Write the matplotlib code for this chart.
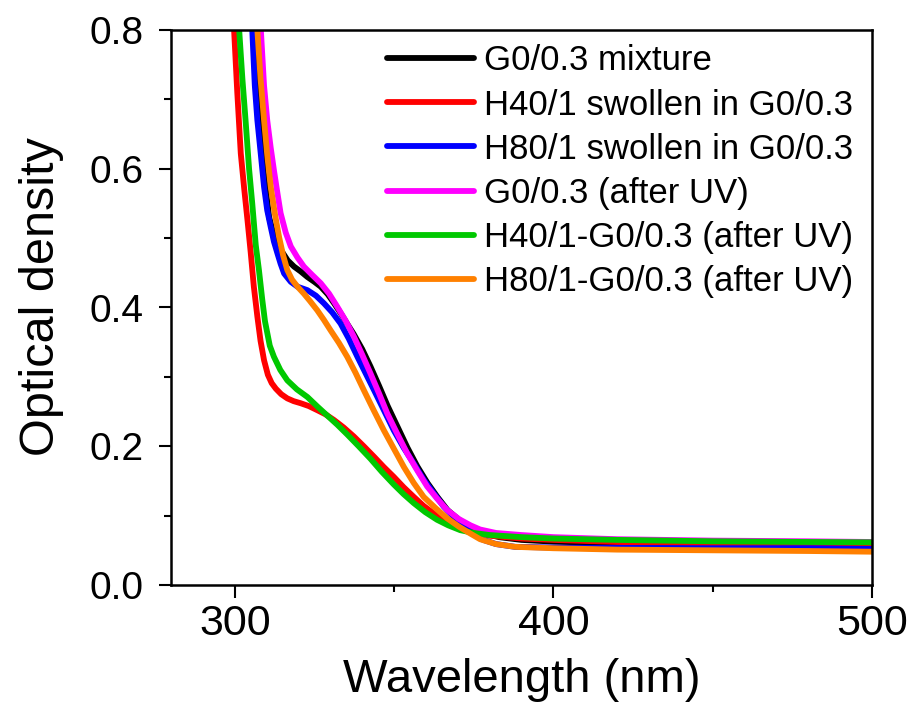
import matplotlib
matplotlib.use("Agg")
import matplotlib.pyplot as plt
from matplotlib.ticker import MultipleLocator

plt.rcParams['font.family'] = ['Liberation Sans', 'DejaVu Sans']

labels = ["G0/0.3 mixture", "H40/1 swollen in G0/0.3", "H80/1 swollen in G0/0.3",
          "G0/0.3 (after UV)", "H40/1-G0/0.3 (after UV)", "H80/1-G0/0.3 (after UV)"]
colors = ["#000000", "#ff0000", "#0000ff", "#ff00ff", "#00c800", "#ff8000"]

black_x = [305.6, 306.5, 307.5, 309.0, 310.8, 312.8, 314.9, 316.6, 318.6, 320.7, 322.8, 325.0, 327.0,
           329.2, 331.2, 333.5, 335.5, 337.3, 340.0, 342.6, 345.3, 348.0, 351.1, 354.2, 357.3, 360.5,
           363.6, 366.8, 370.4, 374.0, 378.0, 383.0, 390.0, 400.0, 420.0, 450.0, 480.0, 500.0]
black_y = [0.95, 0.80, 0.70, 0.60, 0.53, 0.495, 0.480, 0.468, 0.459, 0.452, 0.444, 0.437, 0.430,
           0.419, 0.406, 0.390, 0.375, 0.362, 0.340, 0.315, 0.287, 0.258, 0.228, 0.198, 0.171, 0.147,
           0.127, 0.108, 0.094, 0.083, 0.075, 0.069, 0.065, 0.0625, 0.060, 0.058, 0.057, 0.0567]

red_x = [298.8, 299.8, 300.8, 301.9, 303.0, 304.0, 305.0, 306.0, 307.1, 308.1, 309.2, 310.4, 311.6,
         312.9, 314.6, 316.5, 318.5, 320.7, 323.2, 325.9, 328.5, 331.1, 334.2, 337.4, 340.5, 343.7,
         346.8, 349.9, 353.0, 356.2, 359.3, 362.5, 365.6, 368.7, 372.0, 376.0, 380.0, 390.0, 400.0,
         420.0, 450.0, 480.0, 500.0]
red_y = [0.98, 0.80, 0.71, 0.622, 0.57, 0.526, 0.480, 0.430, 0.387, 0.352, 0.324, 0.303, 0.291,
         0.283, 0.275, 0.269, 0.265, 0.262, 0.258, 0.252, 0.246, 0.238, 0.227, 0.214, 0.200, 0.185,
         0.170, 0.156, 0.141, 0.127, 0.114, 0.103, 0.095, 0.089, 0.083, 0.076, 0.071, 0.067, 0.065,
         0.062, 0.060, 0.059, 0.058]

blue_x = [304.6, 305.5, 306.3, 307.1, 308.2, 309.2, 310.2, 311.3, 312.3, 313.4, 314.4, 315.5, 317.6,
          319.7, 322.8, 325.5, 328.0, 330.6, 333.2, 335.8, 338.5, 341.1, 343.7, 346.8, 349.9, 353.0,
          356.2, 359.3, 362.5, 365.6, 368.8, 372.0, 375.0, 378.0, 382.0, 388.0, 400.0, 420.0, 450.0,
          480.0, 500.0]
blue_y = [0.98, 0.80, 0.72, 0.670, 0.62, 0.574, 0.540, 0.516, 0.495, 0.478, 0.463, 0.449, 0.437,
          0.430, 0.425, 0.417, 0.406, 0.393, 0.377, 0.355, 0.329, 0.305, 0.281, 0.252, 0.223, 0.198,
          0.175, 0.152, 0.132, 0.113, 0.098, 0.084, 0.073, 0.065, 0.059, 0.055, 0.054, 0.0535, 0.053,
          0.053, 0.052]

magenta_x = [307.3, 308.2, 309.2, 310.2, 311.3, 312.3, 313.4, 314.4, 316.0, 317.6, 319.7, 321.7, 324.3,
             327.0, 329.6, 332.2, 334.8, 337.4, 340.0, 342.6, 345.3, 347.9, 351.0, 354.1, 357.3, 360.4,
             363.6, 366.7, 370.4, 374.0, 377.0, 382.0, 390.0, 400.0, 420.0, 450.0, 480.0, 500.0]
magenta_y = [0.98, 0.80, 0.72, 0.670, 0.63, 0.598, 0.565, 0.536, 0.508, 0.488, 0.472, 0.459, 0.447,
             0.435, 0.420, 0.401, 0.381, 0.358, 0.332, 0.305, 0.276, 0.247, 0.218, 0.190, 0.165, 0.142,
             0.124, 0.108, 0.095, 0.086, 0.080, 0.075, 0.072, 0.069, 0.066, 0.064, 0.063, 0.062]

green_x = [300.4, 301.4, 302.4, 303.4, 304.5, 305.5, 306.6, 307.6, 308.6, 309.5, 311.0, 312.3, 314.3,
           316.5, 319.5, 322.8, 326.0, 329.1, 332.2, 335.3, 338.9, 342.6, 346.2, 349.9, 353.0, 356.2,
           359.8, 363.5, 367.0, 370.8, 375.0, 380.0, 390.0, 400.0, 420.0, 450.0, 480.0, 500.0]
green_y = [0.98, 0.80, 0.73, 0.670, 0.60, 0.550, 0.490, 0.454, 0.413, 0.380, 0.345, 0.329, 0.310,
           0.295, 0.282, 0.271, 0.257, 0.244, 0.231, 0.217, 0.200, 0.182, 0.163, 0.145, 0.131, 0.118,
           0.105, 0.094, 0.086, 0.079, 0.075, 0.072, 0.069, 0.067, 0.065, 0.063, 0.062, 0.0615]

orange_x = [306.2, 307.1, 308.1, 309.2, 310.2, 311.3, 312.6, 313.9, 315.2, 316.5, 318.0, 319.7, 321.7,
            323.5, 325.9, 328.0, 330.1, 332.7, 335.3, 337.9, 340.5, 343.6, 346.8, 350.0, 353.1, 356.2,
            359.3, 363.0, 366.7, 370.4, 374.0, 377.0, 382.0, 388.0, 400.0, 420.0, 450.0, 480.0, 500.0]
orange_y = [0.98, 0.80, 0.73, 0.670, 0.62, 0.574, 0.535, 0.502, 0.475, 0.454, 0.440, 0.430, 0.420,
            0.410, 0.396, 0.382, 0.367, 0.349, 0.329, 0.306, 0.281, 0.252, 0.223, 0.196, 0.170, 0.147,
            0.127, 0.111, 0.096, 0.084, 0.074, 0.066, 0.059, 0.055, 0.053, 0.051, 0.050, 0.049, 0.048]

series_x = [black_x, red_x, blue_x, magenta_x, green_x, orange_x]
series_y = [black_y, red_y, blue_y, magenta_y, green_y, orange_y]

fig = plt.figure(figsize=(9.12, 7.15), dpi=100)
ax = fig.add_axes([171/912, 1-585/715, (872-171)/912, 555/715])

for xs, ys, c, lab in zip(series_x, series_y, colors, labels):
    ax.plot(xs, ys, color=c, lw=4.2, label=lab, solid_joinstyle='round', solid_capstyle='round')

ax.set_xlim(280, 500)
ax.set_ylim(0, 0.8)
ax.xaxis.set_major_locator(MultipleLocator(100))
ax.xaxis.set_minor_locator(MultipleLocator(50))
ax.yaxis.set_major_locator(MultipleLocator(0.2))
ax.yaxis.set_minor_locator(MultipleLocator(0.1))
ax.yaxis.set_major_formatter(matplotlib.ticker.FormatStrFormatter('%.1f'))

for s in ax.spines.values():
    s.set_linewidth(1.8)
ax.tick_params(which='major', direction='out', length=9, width=1.5)
ax.tick_params(which='minor', direction='out', length=5, width=1.5)
ax.tick_params(axis='x', which='major', labelsize=31, pad=5)
ax.tick_params(axis='y', which='major', labelsize=28, pad=11)

ax.set_xlabel("Wavelength (nm)", fontsize=34, labelpad=10)
ax.set_ylabel("Optical density", fontsize=35)
ax.yaxis.set_label_coords(-0.152, 0.52)

leg = ax.legend(loc='upper left', bbox_to_anchor=((387-171)/701, 0.974), frameon=False,
                fontsize=25, handlelength=2.5, handletextpad=0.3, labelspacing=0.32,
                borderpad=0, borderaxespad=0)
for h in leg.get_lines():
    h.set_linewidth(4.2)

fig.savefig("out.png", dpi=100)
